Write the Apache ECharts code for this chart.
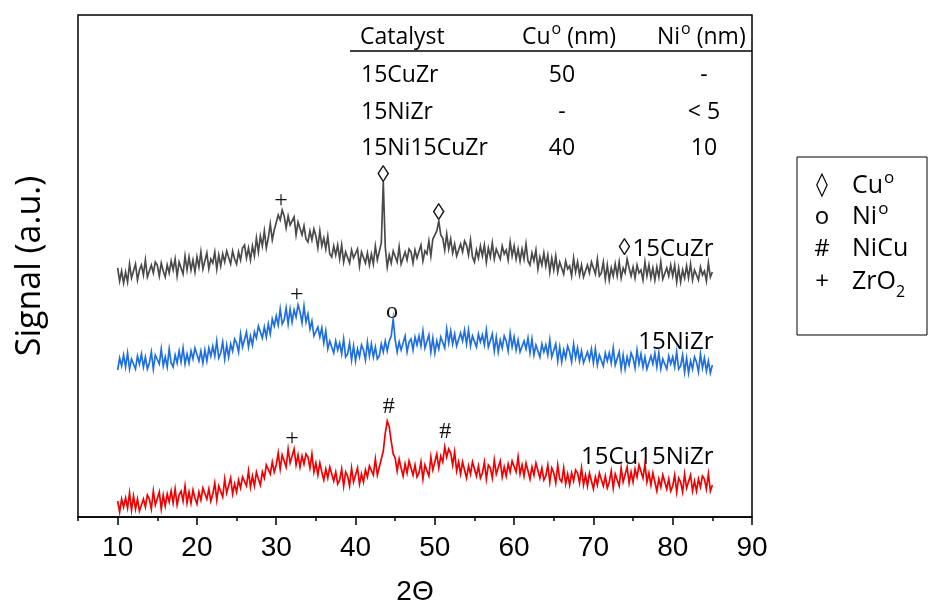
<!DOCTYPE html>
<html><head><meta charset="utf-8">
<script src="https://cdn.jsdelivr.net/npm/echarts@6/dist/echarts.min.js"></script>
<style>html,body{margin:0;padding:0;background:#fff}#c{width:928px;height:610px}</style>
</head><body><div id="c"></div>
<script>
// scan grid (2Theta, degrees)
const scanStart = 10, scanStep = 0.25;

// 15CuZr (grey), arbitrary units, one value per 0.25 deg from 10 to 85
const cuZr = [
249,236,246,234, 245,235,253,239, 239,253,237,247, 252,242,257,240, 240,252,244,255,
252,241,254,246, 240,252,244,256, 247,258,241,255, 253,243,261,247, 260,247,257,245,
260,250,265,248, 250,264,248,258, 254,265,248,262, 251,263,255,266, 264,253,266,258,
253,265,257,269, 272,259,269,257, 271,261,279,265, 281,271,286,269, 279,293,277,287,
287,302,297,307, 301,289,301,292, 290,300,282,295, 296,282,291,278, 275,286,277,288,
281,269,286,271, 279,268,281,263, 260,271,262,272, 258,272,255,265, 265,254,267,259,
257,268,251,265, 267,254,264,252, 263,253,271,257, 258,274,335,270, 250,262,254,266,
265,255,270,253, 253,265,257,268, 265,254,267,259, 258,272,256,266, 263,276,261,278,
278,286,296,282, 279,267,283,268, 278,264,273,261, 261,273,265,276, 272,262,277,260,
255,267,259,271, 261,272,255,269, 260,274,258,268, 269,258,271,263, 267,257,275,261,
271,258,268,256, 268,258,273,256, 252,264,256,267, 248,260,252,264, 251,262,245,259,
247,261,245,255, 254,243,256,248, 251,241,259,245, 255,242,252,240, 240,252,244,255,
253,243,258,241, 244,255,238,252, 237,249,241,253, 241,255,239,249, 244,258,249,241,
250,239,252,244, 247,237,255,241, 252,239,249,237, 250,240,255,238, 237,249,241,252,
241,252,235,249, 235,247,239,251, 239,253,237,247, 248,237,250,242, 246,236,254,240,
245];

// 15NiZr (blue)
const niZr = [
147,159,151,162, 150,164,148,158, 159,148,161,153, 163,150,160,148, 154,165,148,162,
163,153,168,151, 160,150,168,154, 150,162,154,166, 155,169,153,163, 154,166,158,169,
169,156,166,154, 167,156,169,161, 171,161,176,159, 164,175,158,172, 160,173,166,178,
174,165,183,170, 170,185,170,181, 172,185,179,191, 191,179,190,180, 193,183,198,191,
201,192,208,193, 197,209,193,208, 195,207,200,212, 205,194,211,195, 203,188,196,181,
180,190,180,189, 174,186,168,176, 176,164,176,167, 174,163,178,160, 163,174,157,171,
156,168,160,172, 167,157,175,161, 173,160,170,158, 161,173,165,176, 166,176,181,198,
177,165,175,167, 167,181,165,175, 178,167,180,172, 181,171,186,169, 171,182,165,179,
164,176,168,180, 178,169,188,174, 186,173,183,171, 172,184,176,187, 173,187,171,181,
181,170,183,175, 182,172,187,170, 172,183,166,180, 165,177,169,181, 176,166,184,170,
180,167,177,165, 164,176,168,179, 164,178,162,172, 171,160,173,165, 172,162,177,160,
162,173,156,170, 155,167,159,171, 165,155,173,159, 169,156,166,154, 153,165,157,168,
154,168,152,162, 162,151,164,156, 164,154,169,152, 154,165,148,162, 148,160,152,164,
159,149,167,153, 163,150,160,148, 149,161,153,164, 150,164,148,158, 159,148,161,153,
160,150,165,148, 151,162,145,159, 144,156,148,160, 155,145,163,149, 159,146,156,144,
152];

// 15Cu15NiZr (red)
const cuNiZr = [
16,5,18,10, 19,9,24,7, 21,8,18,6, 6,18,10,22, 18,8,26,12,
14,25,8,22, 11,23,15,26, 14,28,12,22, 26,16,31,14, 25,14,27,19,
13,25,17,29, 31,18,28,16, 23,34,17,31, 30,20,38,24, 25,39,23,33,
25,37,29,40, 40,31,46,30, 41,31,45,38, 32,45,39,52, 54,43,55,45,
52,64,48,62, 60,50,68,54, 54,68,52,62, 50,61,53,63, 60,49,63,45,
54,42,54,45, 37,48,39,50, 49,36,45,33, 37,48,31,45, 41,31,49,35,
35,49,33,43, 35,47,40,51, 51,42,58,42, 50,58,66,84, 96,90,76,63,
59,46,58,49, 41,53,44,56, 55,42,52,40, 44,55,38,52, 50,41,60,47,
47,63,49,61, 55,70,60,68, 64,52,65,46, 55,43,55,47, 39,51,43,55,
54,41,51,39, 44,55,38,52, 49,39,57,43, 42,56,40,50, 41,53,45,56,
55,45,60,43, 52,41,54,46, 38,50,42,54, 52,39,49,37, 41,52,35,49,
44,34,52,38, 35,49,33,43, 32,44,36,47, 44,34,49,32, 42,31,44,36,
28,40,32,44, 44,31,41,29, 35,46,29,43, 41,31,49,35, 35,50,34,45,
35,48,40,52, 50,39,53,35, 44,32,44,35, 26,38,30,42, 41,28,38,26,
31,42,25,39, 35,25,43,29, 28,42,26,36, 26,38,30,41, 38,28,43,26,
32];

const xTickLabels = [10, 20, 30, 40, 50, 60, 70, 80, 90];

// phase marks above reflections: [2Theta, signal, symbol]
const peakMarks = [
  [30.6, 316, '+'], [43.5, 341, '◊'], [50.5, 303, '◊'], [73.9, 268, '◊'],
  [32.6, 222, '+'], [44.6, 205, 'o'],
  [32.0, 78, '+'], [44.2, 110, '#'], [51.3, 85, '#']
];
// sample names: [2Theta of right end, signal, name]
const sampleLabels = [[85.2, 268, '15CuZr'], [85.2, 175, '15NiZr'], [85.2, 60, '15Cu15NiZr']];

const tableHeader = ['Catalyst', 'Cu^o (nm)', 'Ni^o (nm)'];
const tableRows = [['15CuZr', '50', '-'], ['15NiZr', '-', '< 5'], ['15Ni15CuZr', '40', '10']];

const legendSymbols = ['◊', 'o', '#', '+'];
const legendNames = ['Cu^o', 'Ni^o', 'NiCu', 'ZrO_2'];

function toRich(s) {
  return s.replace(/\^(\w)/g, '{sup|$1}').replace(/_(\w)/g, '{sub|$1}');
}
function series(arr) { return arr.map((v, i) => [scanStart + i * scanStep, v]); }

const FONT = 'Open Sans';
const richFor = (fs) => ({
  sup: { fontSize: Math.round(fs * 0.68), fontFamily: FONT, verticalAlign: 'top', fill: '#000', padding: [-4, 0, 0, 1] },
  sub: { fontSize: Math.round(fs * 0.64), fontFamily: FONT, verticalAlign: 'bottom', fill: '#000', padding: [0, 0, -6, 0] }
});

function txt(x, y, text, fs, align, extra) {
  return Object.assign({
    type: 'text', x: x, y: y, silent: true,
    style: {
      text: toRich(text), fontSize: fs, fontFamily: FONT, fill: '#000',
      textAlign: align, align: align, textVerticalAlign: 'middle', verticalAlign: 'middle',
      rich: richFor(fs)
    }
  }, extra || {});
}

const graphics = [];
// table
graphics.push({ type: 'line', silent: true, shape: { x1: 350, y1: 51, x2: 752, y2: 51 }, style: { stroke: '#000', lineWidth: 1.5 } });
const colX = [360, 522, 657];
tableHeader.forEach((h, i) => graphics.push(txt(colX[i], 37, h, 23, 'left')));
const rowY = [75, 112, 148];
tableRows.forEach((r, i) => {
  graphics.push(txt(361, rowY[i], r[0], 23, 'left'));
  graphics.push(txt(562, rowY[i], r[1], 23, 'center'));
  graphics.push(txt(704, rowY[i], r[2], 23, 'center'));
});
// legend box
graphics.push({ type: 'rect', silent: true, shape: { x: 797, y: 157, width: 130, height: 178 }, style: { fill: 'none', stroke: '#000', lineWidth: 1 } });
const legY = [186, 217, 249, 282];
legendSymbols.forEach((s, i) => {
  const g = txt(822, legY[i], s, 24, 'center');
  if (s === '◊') g.style.fontFamily = 'DejaVu Sans';
  graphics.push(g);
  graphics.push(txt(852, legY[i], legendNames[i], 25, 'left'));
});
// axis titles
graphics.push(txt(30, 266, 'Signal (a.u.)', 34, 'center', { rotation: Math.PI / 2 }));
const xt = txt(415, 592, '2Θ', 28, 'center');
xt.style.fontFamily = 'Liberation Sans';
graphics.push(xt);

const chart = echarts.init(document.getElementById('c'), null, { renderer: 'canvas' });
chart.setOption({
  animation: false,
  backgroundColor: '#fff',
  grid: { left: 78, top: 15, right: 176, bottom: 93, show: true, borderColor: '#000', borderWidth: 1.5, backgroundColor: 'transparent' },
  xAxis: [{
    type: 'value', min: 5, max: 90, interval: 5,
    axisLine: { show: true, lineStyle: { color: '#000', width: 1.5 } },
    axisTick: { show: true, length: 4, lineStyle: { color: '#000', width: 1.5 } },
    axisLabel: {
      show: true, margin: 17, color: '#000', fontSize: 28,
      fontFamily: "'Liberation Sans Narrow', 'Liberation Sans', sans-serif",
      formatter: v => (xTickLabels.indexOf(v) >= 0 ? String(v) : '')
    },
    splitLine: { show: false }
  }, {
    type: 'value', min: 5, max: 90, position: 'bottom', gridIndex: 0,
    axisLine: { show: false },
    axisTick: { show: true, length: 8, customValues: xTickLabels, lineStyle: { color: '#000', width: 1.5 } },
    axisLabel: { show: false },
    splitLine: { show: false }
  }],
  yAxis: { type: 'value', min: 0, max: 502, axisLine: { show: false }, axisTick: { show: false }, axisLabel: { show: false }, splitLine: { show: false } },
  series: [
    { type: 'line', data: series(cuZr), showSymbol: false, symbol: 'none', lineStyle: { color: '#4a4a4a', width: 1.7, join: 'miter' }, silent: true },
    { type: 'line', data: series(niZr), showSymbol: false, symbol: 'none', lineStyle: { color: '#1f6fe0', width: 1.7, join: 'miter' }, silent: true },
    { type: 'line', data: series(cuNiZr), showSymbol: false, symbol: 'none', lineStyle: { color: '#f00000', width: 1.7, join: 'miter' }, silent: true },
    {
      type: 'scatter', data: peakMarks, symbolSize: 1, itemStyle: { color: 'rgba(0,0,0,0)', opacity: 1 }, silent: true,
      label: {
        show: true, position: 'inside', formatter: p => p.data[2], color: '#111', fontSize: 24,
        fontFamily: "'Liberation Serif', 'DejaVu Sans', serif"
      }
    },
    {
      type: 'scatter', data: sampleLabels, symbolSize: 1, itemStyle: { color: 'rgba(0,0,0,0)', opacity: 1 }, silent: true,
      label: { show: true, position: 'left', distance: 0, formatter: p => p.data[2], color: '#000', fontSize: 24, fontFamily: FONT }
    }
  ],
  graphic: graphics
});
</script>
</body></html>
